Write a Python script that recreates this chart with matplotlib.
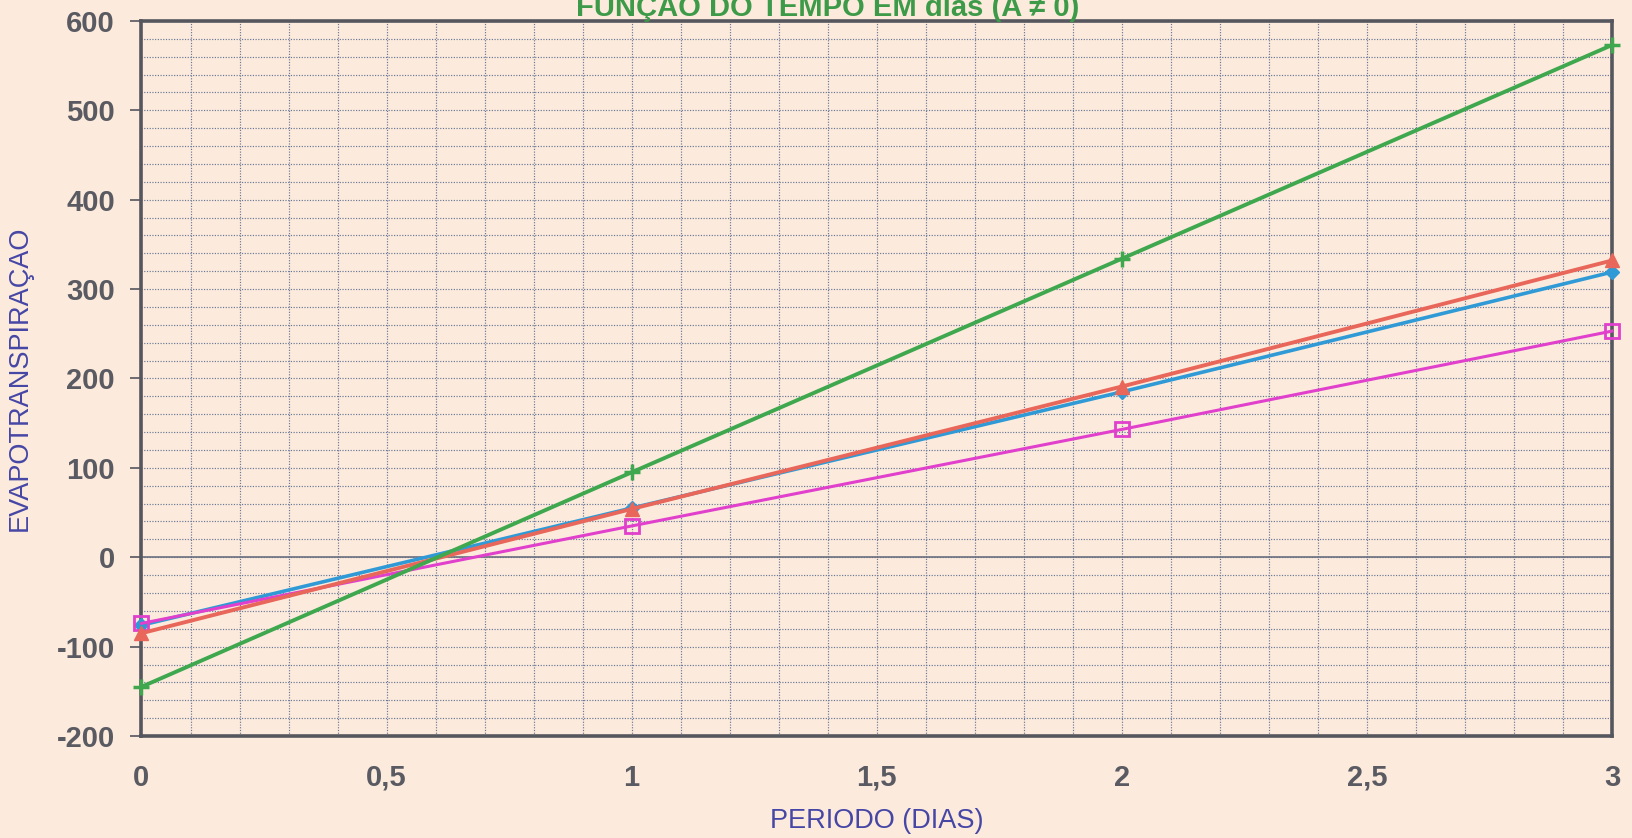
import numpy as np
import matplotlib.pyplot as plt
from matplotlib.ticker import MultipleLocator

# periodo em dias e evapotranspiracao de cada serie
dias = [0, 1, 2, 3]
serie_verde = [-145, 95, 334, 573]
serie_vermelha = [-85, 54, 191, 332]
serie_azul = [-76, 55, 185, 319]
serie_rosa = [-74, 35, 143, 253]

x_ticks = [0, 0.5, 1, 1.5, 2, 2.5, 3]
x_labels = ['0', '0,5', '1', '1,5', '2', '2,5', '3']

plt.rcParams['font.family'] = ['Liberation Sans', 'DejaVu Sans']
plt.rcParams['axes.unicode_minus'] = False

fundo = '#fcebdc'
fig = plt.figure(figsize=(16.32, 8.38), dpi=100, facecolor=fundo)
ax = fig.add_axes([0.0867, 0.1217, 0.9010, 0.8533])
ax.set_facecolor(fundo)

ax.set_xlim(0, 3)
ax.set_ylim(-200, 600)

# grade pontilhada: 0,1 dia na horizontal, 20 unidades na vertical
ax.xaxis.set_minor_locator(MultipleLocator(0.1))
ax.yaxis.set_minor_locator(MultipleLocator(20))
ax.grid(which='both', axis='both', color='#6a7698', linestyle=(0, (1, 1.3)), linewidth=0.85)
ax.axhline(0, color='#6a6f80', linewidth=1.2, zorder=1.5)
ax.set_axisbelow(True)

ax.plot(dias, serie_azul, color='#2f9ad6', linewidth=2.6, marker='D', markersize=7,
        markerfacecolor='#2f9ad6', markeredgecolor='#2f9ad6', clip_on=False, zorder=3)
ax.plot(dias, serie_rosa, color='#e040cc', linewidth=2.2, marker='s', markersize=10,
        markerfacecolor='none', markeredgecolor='#e040cc', markeredgewidth=2, clip_on=False, zorder=3)
ax.plot(dias, serie_vermelha, color='#e8675a', linewidth=2.8, marker='^', markersize=10,
        markerfacecolor='#e8675a', markeredgecolor='#e8675a', clip_on=False, zorder=4)
ax.plot(dias, serie_verde, color='#3fa84f', linewidth=2.8, marker='+', markersize=12,
        markeredgewidth=2.5, clip_on=False, zorder=4)

ax.set_xticks(x_ticks)
ax.set_xticklabels(x_labels)
ax.set_yticks(np.arange(-200, 601, 100))

for s in ax.spines.values():
    s.set_color('#55565e')
    s.set_linewidth(2.6)

ax.tick_params(axis='x', which='major', length=0, pad=20, labelsize=21, labelcolor='#5a5a62')
ax.tick_params(axis='y', which='major', length=8, width=1.2, color='#55565e', pad=11,
               labelsize=21, labelcolor='#5a5a62')
ax.tick_params(which='minor', length=0)
for lab in ax.get_xticklabels() + ax.get_yticklabels():
    lab.set_fontweight('bold')

ax.set_xlabel('PERIODO (DIAS)', fontsize=19.5, color='#4646a6', labelpad=12)
ax.set_ylabel('EVAPOTRANSPIRAÇAO', fontsize=19.5, color='#4646a6', labelpad=17)

fig.text(0.507, 1 - 16 / 838, 'FUNÇÃO DO TEMPO EM dias (A ≠ 0)', ha='center', va='baseline',
         fontsize=21, fontweight='bold', color='#3c9a48')

fig.savefig('out.png', dpi=100, facecolor=fundo)
